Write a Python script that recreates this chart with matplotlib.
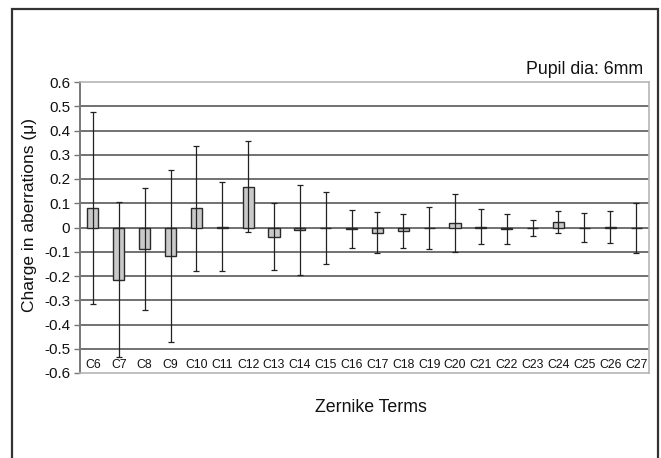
import matplotlib
matplotlib.use("Agg")
import matplotlib.pyplot as plt
from matplotlib.patches import Rectangle

plt.rcParams['font.family'] = ['Liberation Sans', 'DejaVu Sans']

# Zernike terms, mean change and its spread
terms = ["C6", "C7", "C8", "C9", "C10", "C11", "C12", "C13", "C14", "C15", "C16",
         "C17", "C18", "C19", "C20", "C21", "C22", "C23", "C24", "C25", "C26", "C27"]
mean_change = [0.08, -0.215, -0.088, -0.118, 0.08, 0.003, 0.169, -0.038, -0.011, -0.003, -0.005,
               -0.021, -0.015, -0.002, 0.017, 0.003, -0.008, -0.002, 0.022, 0.0, 0.004, -0.003]
spread = [0.396, 0.320, 0.252, 0.354, 0.258, 0.183, 0.186, 0.139, 0.186, 0.148, 0.078,
          0.085, 0.069, 0.085, 0.120, 0.072, 0.062, 0.033, 0.046, 0.061, 0.066, 0.103]
y_ticks = [-0.6, -0.5, -0.4, -0.3, -0.2, -0.1, 0, 0.1, 0.2, 0.3, 0.4, 0.5, 0.6]
y_tick_labels = ["-0.6", "-0.5", "-0.4", "-0.3", "-0.2", "-0.1", "0",
                 "0.1", "0.2", "0.3", "0.4", "0.5", "0.6"]

W, H = 661, 458
fig = plt.figure(figsize=(W / 100, H / 100), dpi=100)
ax = fig.add_axes([80 / W, 1 - 373 / H, 569 / W, 291 / H])

x = list(range(len(terms)))

# horizontal grid
for yv in y_ticks[1:-1]:
    ax.axhline(yv, color="#4a4a4a", lw=1.1, zorder=1)

ax.bar(x, mean_change, width=0.43, color="#c9c9c9", edgecolor="#2a2a2a",
       linewidth=1.0, zorder=3)
ax.errorbar(x, mean_change, yerr=spread, fmt="none", ecolor="#222222",
            elinewidth=0.9, capsize=2.2, capthick=0.9, zorder=4)

ax.set_xlim(-0.5, len(terms) - 0.5)
ax.set_ylim(-0.6, 0.6)
ax.set_yticks(y_ticks)
ax.set_yticklabels(y_tick_labels, fontsize=11)
ax.set_xticks([])
ax.tick_params(axis="y", direction="out", length=4, width=1.0, color="#777777",
               pad=3, labelcolor="#111111")

for side in ("top", "right", "bottom"):
    ax.spines[side].set_color("#b5b5b5")
    ax.spines[side].set_linewidth(1.2)
ax.spines["left"].set_color("#777777")
ax.spines["left"].set_linewidth(1.4)

# category labels sit inside the plot, just above the bottom edge
for xi, t in zip(x, terms):
    ax.text(xi, -0.566, t, ha="center", va="center", fontsize=8.8,
            color="#111111")

fig.text(30 / W, 1 - 215 / H, "Charge in aberrations (\u03bc)", rotation=90,
         ha="center", va="center", fontsize=12.5, color="#111111")
fig.text(371 / W, 1 - 408 / H, "Zernike Terms", ha="center", va="center",
         fontsize=12.8, color="#111111")
fig.text(643 / W, 1 - 70 / H, "Pupil dia: 6mm", ha="right", va="center",
         fontsize=12.8, color="#111111")

# outer chart border
fig.add_artist(Rectangle((12 / W, -0.05), (658 - 12) / W, 1.05 - 9 / H,
                         transform=fig.transFigure, fill=False,
                         edgecolor="#333333", linewidth=1.6))

fig.savefig("out.png", dpi=100, facecolor="white")
